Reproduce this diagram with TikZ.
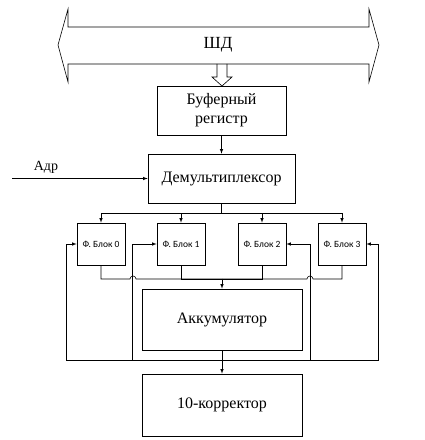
\documentclass[tikz,border=0pt]{standalone}
\usepackage{fontspec}
\setmainfont{Liberation Serif}
\newfontfamily\blockfont{Carlito}
\usepackage{tikz}
\usetikzlibrary{calc}
\usetikzlibrary{arrows}
\usetikzlibrary{arrows.meta}
\usetikzlibrary{positioning}
\tikzset{>=latex}
\tikzset{unit/.style = {rectangle, draw = black, line width = .6pt, inner sep = 0pt, font = \fontsize{16}{19}\selectfont, align = center}}
\tikzset{fblock/.style = {rectangle, draw = black, line width = .6pt, inner sep = 0pt, minimum width = 48pt, minimum height = 42pt, font = \blockfont\fontsize{9.5}{11}\selectfont}}
\tikzset{wire/.style = {line width = .6pt, draw = black}}

\begin{document}
\begin{tikzpicture}[x = 1pt, y = 1pt]
\useasboundingbox (0, 0) rectangle (425, 440);
% data bus
\draw [wire] (58, 395) -- (68, 431) -- (68, 413) -- (369, 413) -- (369, 431) -- (379, 395) -- (369, 358) -- (369, 376) -- (68, 376) -- (68, 358) -- cycle;
\node (bus) at (218, 395) {\fontsize{17}{20}\selectfont ШД};
\draw [wire] (217, 376) -- (217, 363) -- (212, 363) -- (222, 354) -- (232, 363) -- (227, 363) -- (227, 376);
% boxes
\node [unit, minimum width = 129pt, minimum height = 49pt] (buf) at (221.5, 329.5) {Буферный\\регистр};
\node [unit, minimum width = 147pt, minimum height = 49pt] (dm) at (221.5, 261.5) {Демультиплексор};
\node [fblock] (b0) at (101, 196) {Ф. Блок 0};
\node [fblock] (b1) at (181, 196) {Ф. Блок 1};
\node [fblock] (b2) at (262, 196) {Ф. Блок 2};
\node [fblock] (b3) at (342, 196) {Ф. Блок 3};
\node [unit, minimum width = 160pt, minimum height = 61pt] (acc) at (222, 120.5) {Аккумулятор};
\node [unit, minimum width = 160pt, minimum height = 62pt] (corr) at (222, 35) {10-корректор};
\coordinate (adr) at (12, 261.5);
\node (adrl) at (46, 273) {\fontsize{14}{16}\selectfont Адр};
\coordinate (split) at (221.5, 227);
\coordinate (join) at (222, 161);
\coordinate (hopL) at (133, 161);
\coordinate (hopR) at (310, 161);
\coordinate (fb) at (222, 80);
% connectors
\draw [-latex, wire] (buf) -- (dm);
\draw [-latex, wire] (adr) -- (dm.west);
\draw [wire] (dm.south) -- (split);
\draw [-latex, wire] (split) -| (b0.north);
\draw [-latex, wire] (split) -| (b1.north);
\draw [-latex, wire] (split) -| (b2.north);
\draw [-latex, wire] (split) -| (b3.north);
\draw [wire] (b0.south) |- ([xshift = -3pt]hopL) arc (180:0:3pt) -- (join);
\draw [wire] (b3.south) |- ([xshift = 3pt]hopR) arc (0:180:3pt) -- (join);
\draw [wire] (b1.south) |- (join);
\draw [wire] (b2.south) |- (join);
\draw [-latex, wire] (join) -- (acc.north);
\draw [-latex, wire] (acc.south) -- (corr.north);
\draw [-latex, wire] (fb) -| ([xshift = -10pt]b0.west) -- (b0.west);
\draw [-latex, wire] (fb) -| ([xshift = -24pt]b1.west) -- (b1.west);
\draw [-latex, wire] (fb) -| ([xshift = 24pt]b2.east) -- (b2.east);
\draw [-latex, wire] (fb) -| ([xshift = 12pt]b3.east) -- (b3.east);
\end{tikzpicture}
\end{document}
